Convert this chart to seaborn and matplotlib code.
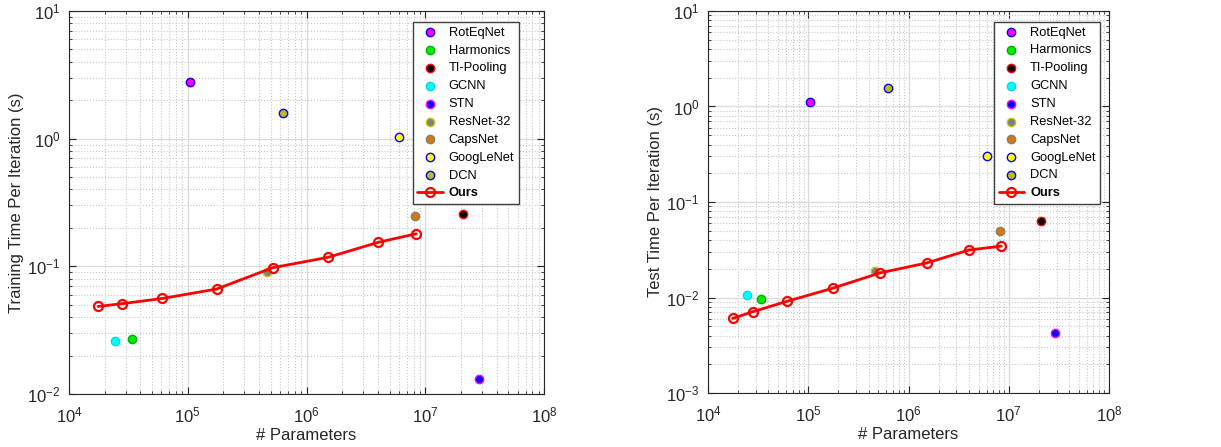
import numpy as np
import matplotlib
matplotlib.use("Agg")
import matplotlib.pyplot as plt
import matplotlib.ticker as mticker
import seaborn as sns

# methods and their marker colours (face, edge)
methods = ["RotEqNet", "Harmonics", "TI-Pooling", "GCNN", "STN",
           "ResNet-32", "CapsNet", "GoogLeNet", "DCN"]
face_colors = ["#ff00ff", "#00ee00", "#000000", "#00ffff", "#0000ff",
               "#808080", "#d97700", "#ffff00", "#bfbf00"]
edge_colors = ["#0000ff", "#00b000", "#ff0000", "#00dddd", "#ff00ff",
               "#c8c800", "#808080", "#0000ff", "#0000ff"]

# number of parameters per method
method_params = [1.05e5, 3.4e4, 2.08e7, 2.46e4, 2.86e7, 4.67e5, 8.2e6, 6.0e6, 6.3e5]
# training / test time per iteration (s)
method_train = [2.8, 0.0269, 0.259, 0.0258, 0.0131, 0.0903, 0.247, 1.03, 1.59]
method_test = [1.11, 0.0096, 0.064, 0.0107, 0.0042, 0.0191, 0.0494, 0.306, 1.58]

# our models
ours_params = [1.76e4, 2.8e4, 6.1e4, 1.75e5, 5.2e5, 1.52e6, 4.0e6, 8.4e6]
ours_train = [0.0485, 0.051, 0.056, 0.0664, 0.0976, 0.1177, 0.154, 0.18]
ours_test = [0.00604, 0.0071, 0.0091, 0.0125, 0.0181, 0.023, 0.0314, 0.0345]

sns.set_style("ticks")
plt.rcParams["font.family"] = ["Liberation Sans", "DejaVu Sans"]
plt.rcParams["mathtext.fontset"] = "custom"
plt.rcParams["mathtext.rm"] = "Liberation Sans"
plt.rcParams["mathtext.it"] = "Liberation Sans"

fig = plt.figure(figsize=(12.21, 4.47), dpi=100)
ax1 = fig.add_axes([69 / 1221, 1 - 394 / 447, 475 / 1221, 383 / 447])
ax2 = fig.add_axes([708 / 1221, 1 - 393 / 447, 401 / 1221, 382 / 447])

panels = [
    (ax1, method_train, ours_train, "Training Time Per Iteration (s)", (1e-2, 1e1), 0.947),
    (ax2, method_test, ours_test, "Test Time Per Iteration (s)", (1e-3, 1e1), 0.978),
]

axis_gray = "#262626"

for ax, mvals, ovals, ylabel, ylim, lx in panels:
    ax.set_xscale("log")
    ax.set_yscale("log")
    for i, name in enumerate(methods):
        sns.scatterplot(x=[method_params[i]], y=[mvals[i]], ax=ax,
                        color=face_colors[i], edgecolor=edge_colors[i],
                        linewidth=1.0, s=36, label=name, zorder=3)
    sns.lineplot(x=ours_params, y=ovals, ax=ax, color="red", linewidth=2,
                 marker="o", markersize=6.5, markerfacecolor="none",
                 markeredgecolor="red", markeredgewidth=1.6,
                 label="Ours", zorder=4)

    ax.set_xlim(1e4, 1e8)
    ax.set_ylim(*ylim)
    ax.xaxis.set_major_locator(mticker.LogLocator(base=10, numticks=10))
    ax.yaxis.set_major_locator(mticker.LogLocator(base=10, numticks=10))
    ax.xaxis.set_minor_locator(mticker.LogLocator(base=10, subs=np.arange(2, 10), numticks=50))
    ax.yaxis.set_minor_locator(mticker.LogLocator(base=10, subs=np.arange(2, 10), numticks=50))
    ax.xaxis.set_minor_formatter(mticker.NullFormatter())
    ax.yaxis.set_minor_formatter(mticker.NullFormatter())

    ax.grid(which="major", color="#dcdcdc", linestyle="-", linewidth=1.0)
    ax.grid(which="minor", color="#c8c8c8", linestyle=":", linewidth=0.8)
    ax.set_axisbelow(True)

    ax.tick_params(which="both", direction="in", top=True, right=True,
                   colors=axis_gray, labelsize=12)
    ax.tick_params(which="major", length=5, width=0.8)
    ax.tick_params(which="minor", length=2.5, width=0.6)
    ax.tick_params(axis="x", which="major", pad=8)
    ax.tick_params(axis="y", which="major", pad=6)
    for sp in ax.spines.values():
        sp.set_color(axis_gray)
        sp.set_linewidth(0.8)

    ax.set_xlabel("# Parameters", fontsize=12, color=axis_gray, labelpad=2)
    ax.set_ylabel(ylabel, fontsize=12, color=axis_gray, labelpad=2)

    leg = ax.legend(loc="upper right", bbox_to_anchor=(lx, 0.971),
                    fontsize=9.3, frameon=True, fancybox=False,
                    borderpad=0.35, labelspacing=0.45, handlelength=2.0,
                    handletextpad=0.45, borderaxespad=0.0)
    leg.get_frame().set_edgecolor("#404040")
    leg.get_frame().set_linewidth(1.0)
    leg.get_frame().set_alpha(1.0)
    for t in leg.get_texts():
        t.set_color("black")
    leg.get_texts()[-1].set_fontweight("bold")

fig.savefig("out.png", dpi=100)
